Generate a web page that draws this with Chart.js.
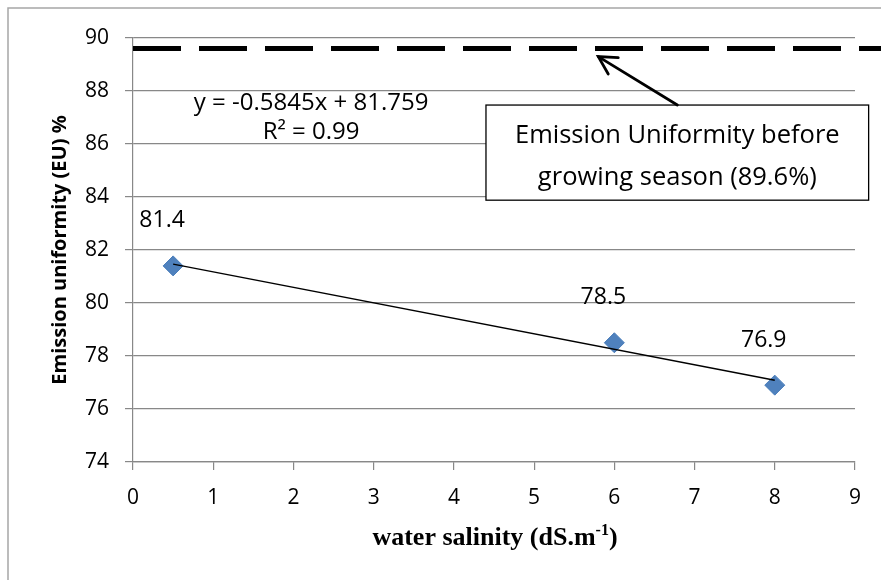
<!DOCTYPE html>
<html>
<head>
<meta charset="utf-8">
<script src="https://cdn.jsdelivr.net/npm/chart.js@4.4.1/dist/chart.umd.min.js"></script>
<style>
  html, body { margin: 0; padding: 0; background: #fff; }
  #wrap { width: 881px; height: 580px; position: relative; }
</style>
</head>
<body>
<div id="wrap"><canvas id="c" width="881" height="580"></canvas></div>
<script>
// Measured emission uniformity at each irrigation-water salinity
const salinity = [0.5, 6, 8];
const uniformity = [81.4, 78.5, 76.9];

// Linear fit reported for the measurements
const fitSlope = -0.5845;
const fitIntercept = 81.759;
const fitR2 = 0.99;

// Uniformity measured before the growing season (%)
const baselineEU = 89.6;

// Axis settings
const xTicks = [0, 1, 2, 3, 4, 5, 6, 7, 8, 9];
const yTicks = [74, 76, 78, 80, 82, 84, 86, 88, 90];

const fitX = [salinity[0], salinity[salinity.length - 1]];
const fitPoints = fitX.map(x => ({ x: x, y: fitSlope * x + fitIntercept }));

const FONT = '"Open Sans", "Noto Sans", sans-serif';
const GRID = '#888888';

const overlay = {
  id: 'overlay',
  beforeDraw(chart) {
    const ctx = chart.ctx;
    ctx.save();
    ctx.fillStyle = '#ffffff';
    ctx.fillRect(0, 0, chart.width, chart.height);
    // outer frame
    ctx.strokeStyle = '#a6a6a6';
    ctx.lineWidth = 1.5;
    ctx.strokeRect(8, 8, chart.width + 20, chart.height + 20);
    ctx.restore();
  },
  afterDatasetsDraw(chart) {
    const ctx = chart.ctx;
    const xs = chart.scales.x, ys = chart.scales.y;
    const px = v => xs.getPixelForValue(v);
    const py = v => ys.getPixelForValue(v);
    ctx.save();

    // baseline uniformity (dashed, runs past the plot to the edge)
    const yb = py(baselineEU);
    ctx.strokeStyle = '#000';
    ctx.lineWidth = 5;
    ctx.setLineDash([48, 18]);
    ctx.beginPath();
    ctx.moveTo(chart.chartArea.left, yb);
    ctx.lineTo(chart.width, yb);
    ctx.stroke();
    ctx.setLineDash([]);

    // value labels over the points
    ctx.fillStyle = '#000';
    ctx.font = '23px ' + FONT;
    ctx.textAlign = 'center';
    ctx.textBaseline = 'middle';
    const meta = chart.getDatasetMeta(1);
    meta.data.forEach((pt, i) => {
      ctx.fillText(uniformity[i].toFixed(1), pt.x - 11, pt.y - 45);
    });

    // regression equation
    ctx.font = '24px ' + FONT;
    const sign = fitIntercept >= 0 ? ' + ' : ' - ';
    const eq = 'y = ' + fitSlope + 'x' + sign + Math.abs(fitIntercept);
    ctx.fillText(eq, px(2.22), 103);
    ctx.fillText('R² = ' + fitR2, px(2.22), 132);

    // callout box
    const bl = px(4.4), br = px(9.17), bt = py(87.47), bbm = py(83.88);
    ctx.fillStyle = '#fff';
    ctx.fillRect(bl, bt, br - bl, bbm - bt);
    ctx.strokeStyle = '#000';
    ctx.lineWidth = 1.3;
    ctx.strokeRect(bl, bt, br - bl, bbm - bt);
    ctx.fillStyle = '#000';
    ctx.font = '25.5px ' + FONT;
    const cx = (bl + br) / 2;
    ctx.fillText('Emission Uniformity before', cx, bt + 31);
    ctx.fillText('growing season (' + baselineEU + '%)', cx, bt + 73);

    // arrow from the callout to the dashed line
    const ax0 = cx, ay0 = bt;
    const ax1 = px(5.8), ay1 = yb + 8;
    ctx.lineWidth = 2.8;
    ctx.lineCap = 'round';
    ctx.beginPath();
    ctx.moveTo(ax0, ay0);
    ctx.lineTo(ax1, ay1);
    ctx.stroke();
    const ang = Math.atan2(ay0 - ay1, ax0 - ax1);
    const hl = 20, spread = 0.5;
    ctx.beginPath();
    ctx.moveTo(ax1 + hl * Math.cos(ang - spread), ay1 + hl * Math.sin(ang - spread));
    ctx.lineTo(ax1, ay1);
    ctx.lineTo(ax1 + hl * Math.cos(ang + spread), ay1 + hl * Math.sin(ang + spread));
    ctx.stroke();

    // x-axis title with superscript
    const mainFont = 'bold 26px "Liberation Serif", "Times New Roman", serif';
    const supFont = 'bold 16px "Liberation Serif", "Times New Roman", serif';
    const t1 = 'water salinity (dS.m', t2 = '-1', t3 = ')';
    ctx.textAlign = 'left';
    ctx.textBaseline = 'alphabetic';
    ctx.font = mainFont;
    const w1 = ctx.measureText(t1).width, w3 = ctx.measureText(t3).width;
    ctx.font = supFont;
    const w2 = ctx.measureText(t2).width;
    const tcx = 495;
    let tx = tcx - (w1 + w2 + w3) / 2;
    const base = 545;
    ctx.font = mainFont;
    ctx.fillText(t1, tx, base);
    tx += w1;
    ctx.font = supFont;
    ctx.fillText(t2, tx, base - 10);
    tx += w2;
    ctx.font = mainFont;
    ctx.fillText(t3, tx, base);

    ctx.restore();
  }
};

const PAD_L = 0, PAD_T = 38, PAD_R = 26, PAD_B = 0;

new Chart(document.getElementById('c'), {
  type: 'scatter',
  data: {
    datasets: [
      {
        label: 'Linear fit',
        type: 'line',
        data: fitPoints,
        borderColor: '#000',
        borderWidth: 1.5,
        pointRadius: 0,
        fill: false,
        tension: 0
      },
      {
        label: 'EU',
        data: salinity.map((x, i) => ({ x: x, y: uniformity[i] })),
        pointStyle: 'rectRot',
        pointRadius: 10,
        pointHoverRadius: 10,
        backgroundColor: '#4F81BD',
        borderColor: '#4A7EBB',
        borderWidth: 1
      }
    ]
  },
  options: {
    responsive: false,
    animation: false,
    events: [],
    layout: { autoPadding: false, padding: { left: PAD_L, top: PAD_T, right: PAD_R, bottom: PAD_B } },
    plugins: { legend: { display: false }, tooltip: { enabled: false } },
    scales: {
      x: {
        type: 'linear',
        min: xTicks[0],
        max: xTicks[xTicks.length - 1],
        afterBuildTicks: s => { s.ticks = xTicks.map(v => ({ value: v })); },
        afterFit: s => { s.height = 580 - PAD_B - 462; },
        grid: { drawOnChartArea: false, drawTicks: true, tickLength: 8, color: GRID, lineWidth: 1.2 },
        border: { color: GRID, width: 1.2 },
        ticks: { color: '#000', font: { family: FONT, size: 21 }, padding: 15, maxRotation: 0 }
      },
      y: {
        type: 'linear',
        min: yTicks[0],
        max: yTicks[yTicks.length - 1],
        afterBuildTicks: s => { s.ticks = yTicks.map(v => ({ value: v })); },
        afterFit: s => { s.width = 133 - PAD_L; },
        grid: { drawOnChartArea: true, drawTicks: true, tickLength: 8, color: GRID, lineWidth: 1.2 },
        border: { color: GRID, width: 1.2 },
        ticks: { color: '#000', font: { family: FONT, size: 21 }, padding: 16 },
        title: {
          display: true,
          text: 'Emission uniformity (EU) %',
          color: '#000',
          font: { family: FONT, size: 20, weight: 'bold' },
          padding: { top: 48, bottom: 0 }
        }
      }
    }
  },
  plugins: [overlay]
});
</script>
</body>
</html>
